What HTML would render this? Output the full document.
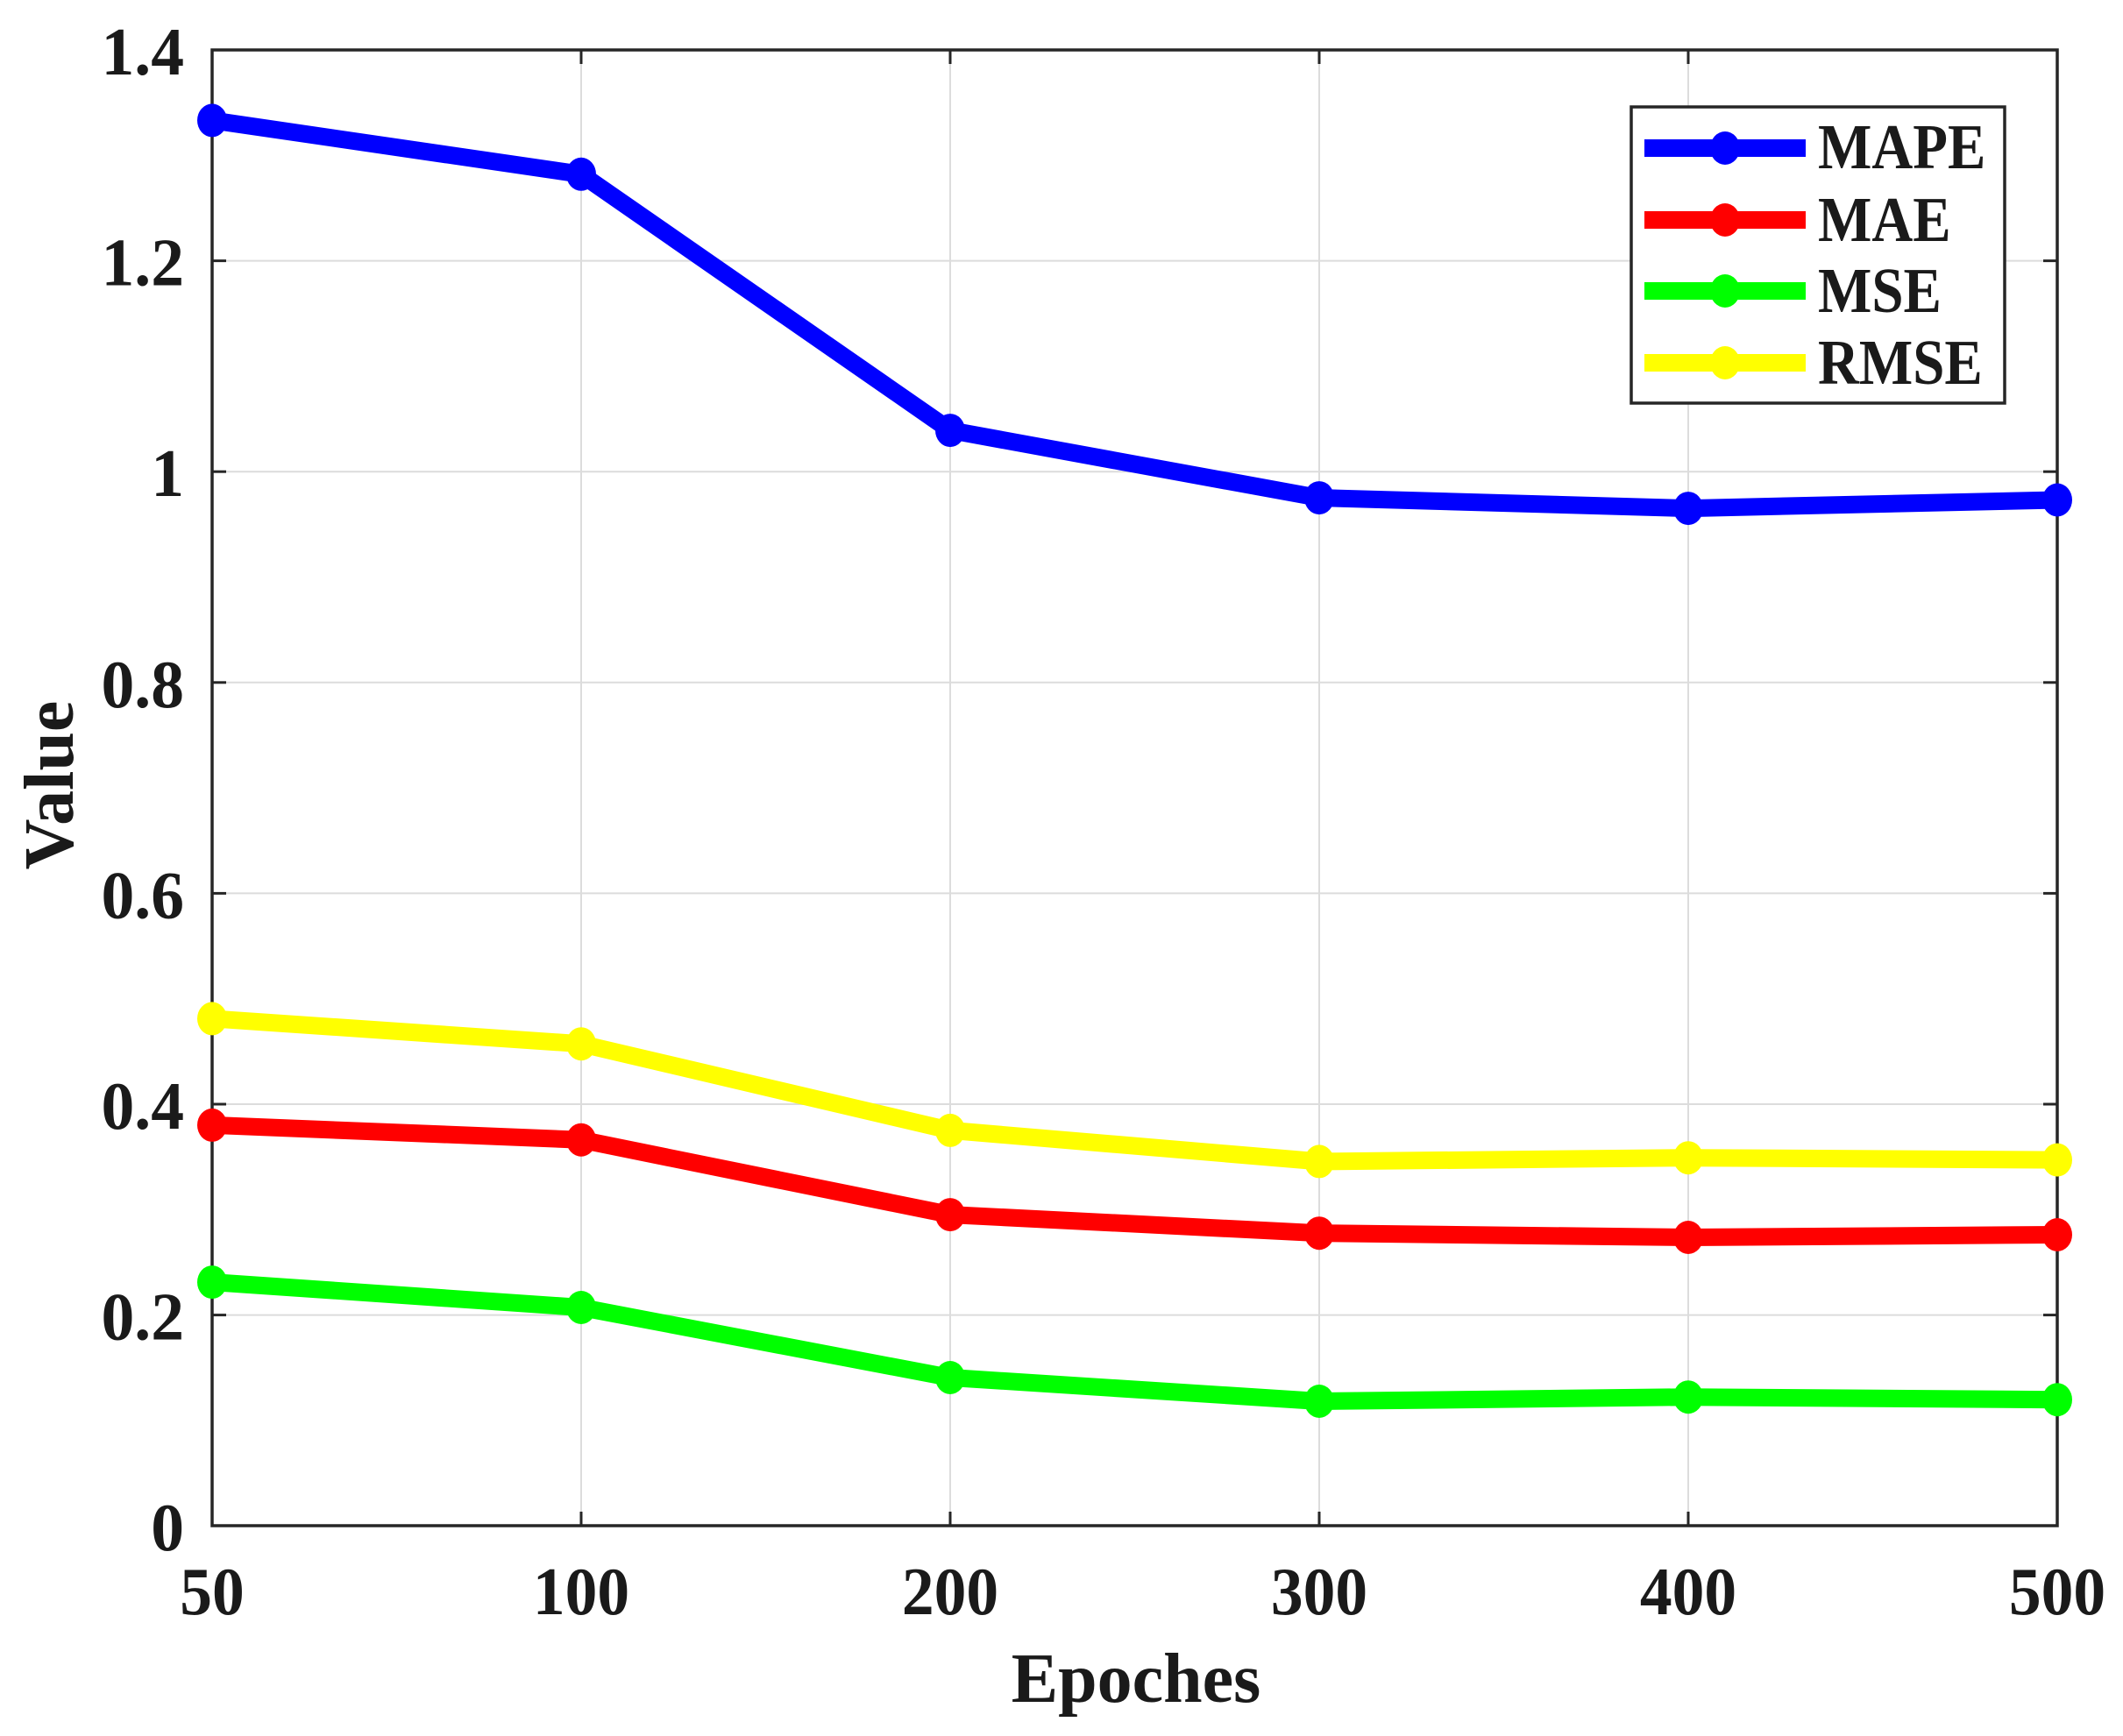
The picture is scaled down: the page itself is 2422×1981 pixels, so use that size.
<!DOCTYPE html>
<html>
<head>
<meta charset="utf-8">
<style>
html,body{margin:0;padding:0;background:#fff;}
svg{display:block;}
text{font-family:"Liberation Serif","Times New Roman",serif;font-weight:bold;fill:#1a1a1a;}
</style>
</head>
<body>
<svg width="2422" height="1981" viewBox="0 0 2422 1981" xmlns="http://www.w3.org/2000/svg">
<rect x="0" y="0" width="2422" height="1981" fill="#fff"/>
<!-- grid -->
<g stroke="#dcdcdc" stroke-width="2">
  <line x1="663" y1="57" x2="663" y2="1741"/>
  <line x1="1084" y1="57" x2="1084" y2="1741"/>
  <line x1="1505" y1="57" x2="1505" y2="1741"/>
  <line x1="1926" y1="57" x2="1926" y2="1741"/>
  <line x1="242" y1="297.6" x2="2347" y2="297.6"/>
  <line x1="242" y1="538.2" x2="2347" y2="538.2"/>
  <line x1="242" y1="778.8" x2="2347" y2="778.8"/>
  <line x1="242" y1="1019.4" x2="2347" y2="1019.4"/>
  <line x1="242" y1="1260" x2="2347" y2="1260"/>
  <line x1="242" y1="1500.6" x2="2347" y2="1500.6"/>
</g>
<!-- axes box -->
<rect x="242" y="57" width="2105" height="1684" fill="none" stroke="#262626" stroke-width="3.5"/>
<!-- ticks -->
<g stroke="#262626" stroke-width="3">
  <line x1="663" y1="1741" x2="663" y2="1725"/><line x1="663" y1="57" x2="663" y2="73"/>
  <line x1="1084" y1="1741" x2="1084" y2="1725"/><line x1="1084" y1="57" x2="1084" y2="73"/>
  <line x1="1505" y1="1741" x2="1505" y2="1725"/><line x1="1505" y1="57" x2="1505" y2="73"/>
  <line x1="1926" y1="1741" x2="1926" y2="1725"/><line x1="1926" y1="57" x2="1926" y2="73"/>
  <line x1="242" y1="297.6" x2="258" y2="297.6"/><line x1="2347" y1="297.6" x2="2331" y2="297.6"/>
  <line x1="242" y1="538.2" x2="258" y2="538.2"/><line x1="2347" y1="538.2" x2="2331" y2="538.2"/>
  <line x1="242" y1="778.8" x2="258" y2="778.8"/><line x1="2347" y1="778.8" x2="2331" y2="778.8"/>
  <line x1="242" y1="1019.4" x2="258" y2="1019.4"/><line x1="2347" y1="1019.4" x2="2331" y2="1019.4"/>
  <line x1="242" y1="1260" x2="258" y2="1260"/><line x1="2347" y1="1260" x2="2331" y2="1260"/>
  <line x1="242" y1="1500.6" x2="258" y2="1500.6"/><line x1="2347" y1="1500.6" x2="2331" y2="1500.6"/>
</g>
<!-- y tick labels -->
<g font-size="70" text-anchor="end">
  <text transform="translate(210,85) scale(1.08,1.1)">1.4</text>
  <text transform="translate(210,325.6) scale(1.08,1.1)">1.2</text>
  <text transform="translate(210,566.2) scale(1.08,1.1)">1</text>
  <text transform="translate(210,806.8) scale(1.08,1.1)">0.8</text>
  <text transform="translate(210,1047.4) scale(1.08,1.1)">0.6</text>
  <text transform="translate(210,1288) scale(1.08,1.1)">0.4</text>
  <text transform="translate(210,1528.6) scale(1.08,1.1)">0.2</text>
  <text transform="translate(210,1769) scale(1.08,1.1)">0</text>
</g>
<!-- x tick labels -->
<g font-size="70" text-anchor="middle">
  <text transform="translate(242,1842) scale(1.05,1.1)">50</text>
  <text transform="translate(663,1842) scale(1.05,1.1)">100</text>
  <text transform="translate(1084,1842) scale(1.05,1.1)">200</text>
  <text transform="translate(1505,1842) scale(1.05,1.1)">300</text>
  <text transform="translate(1926,1842) scale(1.05,1.1)">400</text>
  <text transform="translate(2347,1842) scale(1.05,1.1)">500</text>
</g>
<!-- axis labels -->
<text x="1296" y="1942" font-size="80" text-anchor="middle">Epoches</text>
<text transform="translate(83,896) rotate(-90)" font-size="80" text-anchor="middle">Value</text>

<!-- series -->
<g fill="none" stroke-width="20" stroke-linejoin="round" stroke-linecap="round">
  <polyline stroke="#0000ff" points="242,137.4 663,198.8 1084,491.1 1505,568.1 1926,580.1 2347,570.5"/>
  <polyline stroke="#ff0000" points="242,1283.9 663,1300.7 1084,1386.1 1505,1407.2 1926,1412 2347,1409"/>
  <polyline stroke="#00ff00" points="242,1463.1 663,1492 1084,1572 1505,1599 1926,1594.2 2347,1597.2"/>
  <polyline stroke="#ffff00" points="242,1162.4 663,1191.2 1084,1289.9 1505,1325.4 1926,1321.2 2347,1323.6"/>
</g>
<g fill="#0000ff">
  <ellipse cx="242" cy="137.4" rx="17" ry="19"/><ellipse cx="663" cy="198.8" rx="17" ry="19"/>
  <ellipse cx="1084" cy="491.1" rx="17" ry="19"/><ellipse cx="1505" cy="568.1" rx="17" ry="19"/>
  <ellipse cx="1926" cy="580.1" rx="17" ry="19"/><ellipse cx="2347" cy="570.5" rx="17" ry="19"/>
</g>
<g fill="#ff0000">
  <ellipse cx="242" cy="1283.9" rx="17" ry="19"/><ellipse cx="663" cy="1300.7" rx="17" ry="19"/>
  <ellipse cx="1084" cy="1386.1" rx="17" ry="19"/><ellipse cx="1505" cy="1407.2" rx="17" ry="19"/>
  <ellipse cx="1926" cy="1412" rx="17" ry="19"/><ellipse cx="2347" cy="1409" rx="17" ry="19"/>
</g>
<g fill="#00ff00">
  <ellipse cx="242" cy="1463.1" rx="17" ry="19"/><ellipse cx="663" cy="1492" rx="17" ry="19"/>
  <ellipse cx="1084" cy="1572" rx="17" ry="19"/><ellipse cx="1505" cy="1599" rx="17" ry="19"/>
  <ellipse cx="1926" cy="1594.2" rx="17" ry="19"/><ellipse cx="2347" cy="1597.2" rx="17" ry="19"/>
</g>
<g fill="#ffff00">
  <ellipse cx="242" cy="1162.4" rx="17" ry="19"/><ellipse cx="663" cy="1191.2" rx="17" ry="19"/>
  <ellipse cx="1084" cy="1289.9" rx="17" ry="19"/><ellipse cx="1505" cy="1325.4" rx="17" ry="19"/>
  <ellipse cx="1926" cy="1321.2" rx="17" ry="19"/><ellipse cx="2347" cy="1323.6" rx="17" ry="19"/>
</g>

<!-- legend -->
<rect x="1861" y="122" width="426" height="338" fill="#fff" stroke="#262626" stroke-width="3.5"/>
<g stroke-width="20">
  <line x1="1876" y1="169" x2="2060" y2="169" stroke="#0000ff"/>
  <line x1="1876" y1="251" x2="2060" y2="251" stroke="#ff0000"/>
  <line x1="1876" y1="332" x2="2060" y2="332" stroke="#00ff00"/>
  <line x1="1876" y1="414" x2="2060" y2="414" stroke="#ffff00"/>
</g>
<ellipse cx="1968" cy="169" rx="17" ry="19" fill="#0000ff"/>
<ellipse cx="1968" cy="251" rx="17" ry="19" fill="#ff0000"/>
<ellipse cx="1968" cy="332" rx="17" ry="19" fill="#00ff00"/>
<ellipse cx="1968" cy="414" rx="17" ry="19" fill="#ffff00"/>
<g font-size="65" style="fill:#000">
  <text transform="translate(2074,192) scale(1,1.12)">MAPE</text>
  <text transform="translate(2074,275) scale(1,1.12)">MAE</text>
  <text transform="translate(2074,356) scale(1,1.12)">MSE</text>
  <text transform="translate(2074,438) scale(1,1.12)">RMSE</text>
</g>
</svg>
</body>
</html>
